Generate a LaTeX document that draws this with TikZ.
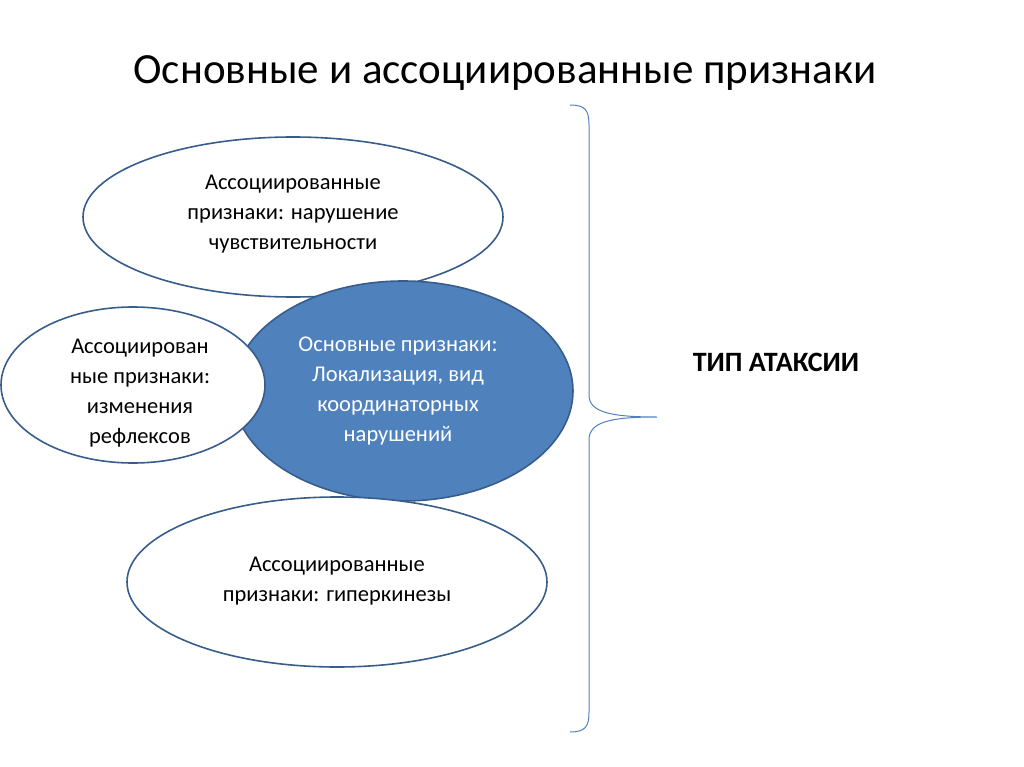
\documentclass[tikz,border=0pt]{standalone}
\usepackage{fontspec}
\setmainfont{Carlito}
\usetikzlibrary{shapes.geometric}
\definecolor{edge}{HTML}{385D8A}
\definecolor{fillb}{HTML}{4F81BD}
\begin{document}
\begin{tikzpicture}[x=1pt,y=-1pt,
  ell/.style={ellipse,draw=edge,line width=1.6pt,fill=white,inner sep=0pt},
  txt/.style={align=center,font=\fontsize{22.5}{30}\selectfont}]
\useasboundingbox (0,0) rectangle (1024,767);
\node[ell,minimum width=420,minimum height=160] (top) at (293,217) {};
\node[txt] (toptx) at (293,214) {Ассоциированные\\признаки: нарушение\\чувствительности};
\node[ell,fill=fillb,minimum width=340,minimum height=220] (mid) at (403,391) {};
\node[ell,minimum width=264,minimum height=156] (left) at (133,385) {};
\node[txt] (lefttx) at (140,393) {Ассоциирован\\ные признаки:\\изменения\\рефлексов};
\node[txt,text=white] (midtx) at (398,391) {Основные признаки:\\Локализация, вид\\координаторных\\нарушений};
\node[ell,minimum width=420,minimum height=170] (bot) at (337,582) {};
\node[txt] (bottx) at (337,581) {Ассоциированные\\признаки: гиперкинезы};
\node[font=\fontsize{43}{50}\selectfont] (title) at (505,73) {Основные и ассоциированные признаки};
\node[font=\bfseries\fontsize{28}{32}\selectfont] (tip) at (776,362) {ТИП АТАКСИИ};
\draw[fillb,line width=1pt] (570,105) .. controls (585,105) and (589,110) .. (589,125)
  -- (589,395) .. controls (589,412) and (610,417) .. (657,417)
  .. controls (610,417) and (589,422) .. (589,440)
  -- (589,712) .. controls (589,727) and (585,732) .. (570,732);
\end{tikzpicture}
\end{document}
